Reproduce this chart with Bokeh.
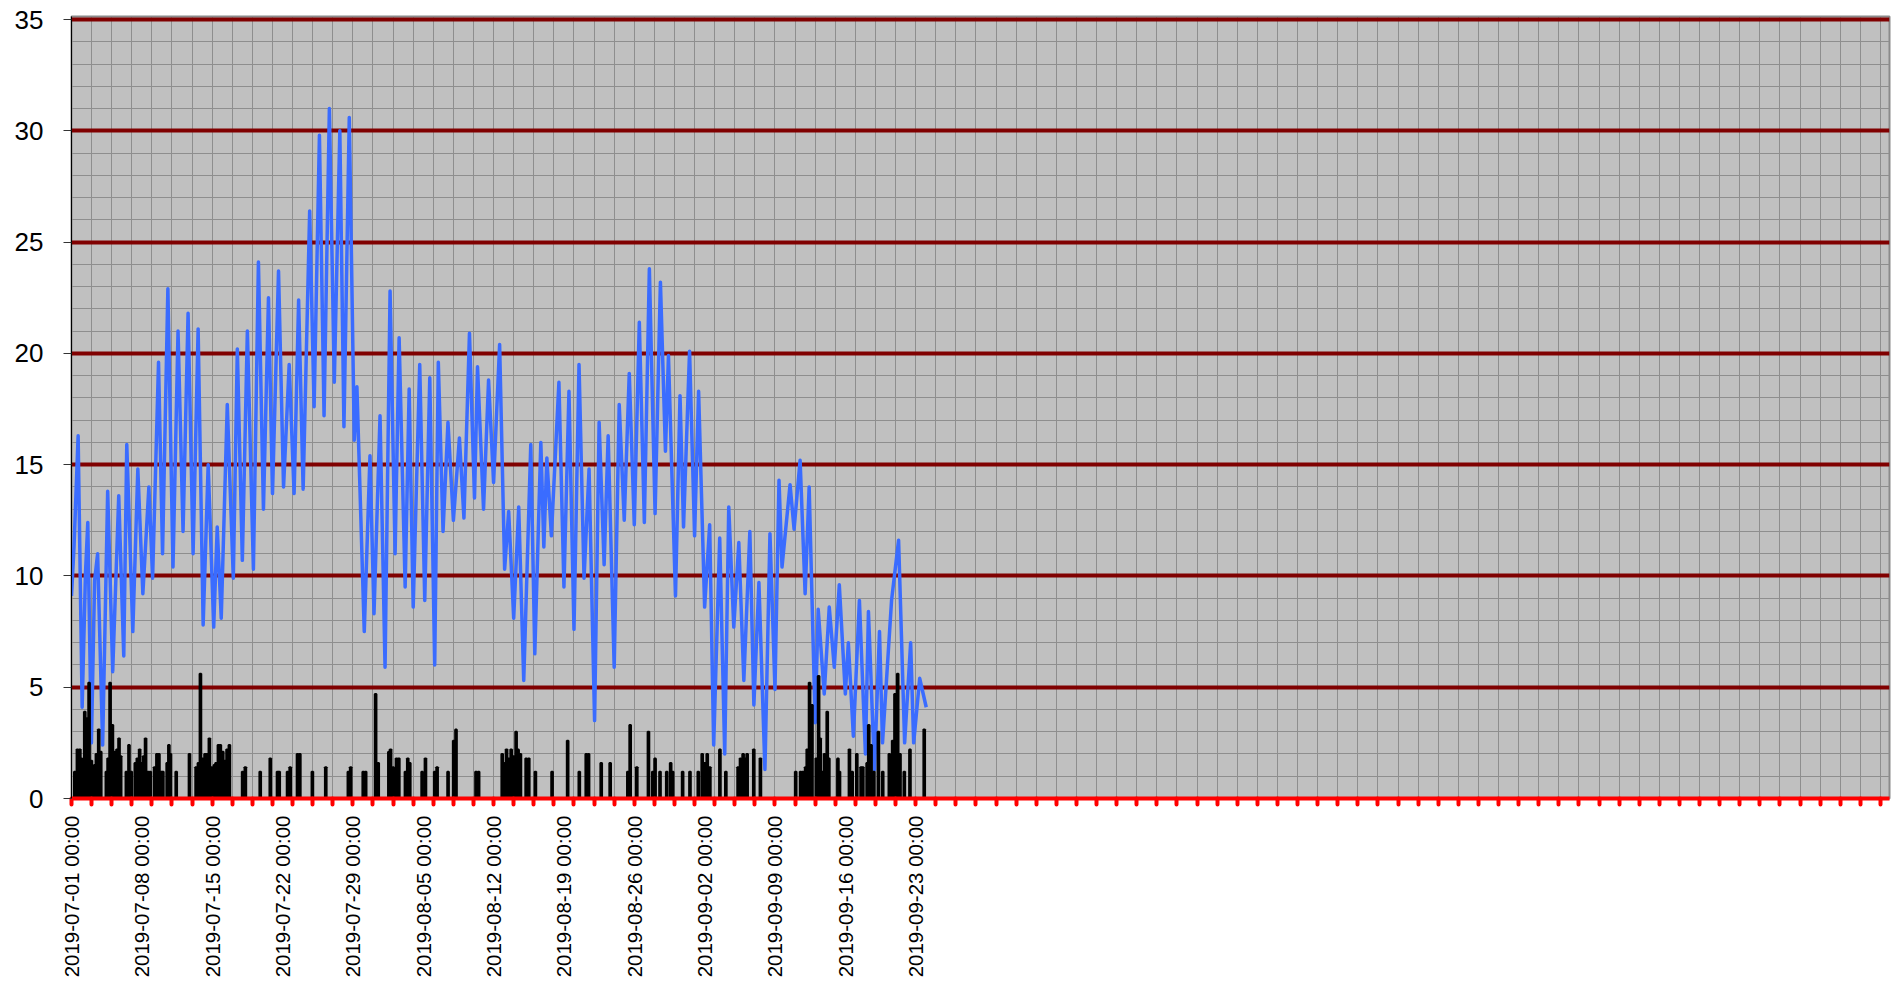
import math
import pandas as pd
from bokeh.plotting import figure
from bokeh.models import Range1d, FixedTicker, DatetimeTickFormatter, ColumnDataSource
from bokeh.embed import file_html
from bokeh.resources import INLINE

START = pd.Timestamp("2019-07-01 00:00")

# Temperature: days since 2019-07-01 and values
temp_days = [0.0, 0.25, 0.66, 1.06, 1.39, 1.62, 1.98, 2.3, 2.6, 3.1, 3.6, 4.1, 4.7, 5.2, 5.5, 6.1, 6.6, 7.1, 7.7,
             8.07, 8.66, 9.06, 9.59, 10.1, 10.6, 11.1, 11.6, 12.1, 12.6, 13.1, 13.6, 14.15, 14.5, 14.9, 15.5, 16.1,
             16.5, 17.0, 17.5, 18.1, 18.6, 19.1, 19.6, 20.0, 20.6, 21.1,
             21.66, 22.15, 22.6, 23.05, 23.7, 24.14, 24.67, 25.13, 25.66, 26.15, 26.7, 27.11, 27.64, 28.14, 28.4,
             29.13, 29.7, 30.1, 30.7, 31.2, 31.7, 32.2, 32.6, 33.2, 33.6, 34.0, 34.65, 35.15, 35.65, 36.14, 36.5,
             36.97, 37.46, 38.0, 38.6, 39.05, 39.6, 40.1, 40.4, 41.0, 41.5, 42.0, 42.6,
             43.1, 43.5, 44.0, 44.5, 45.0, 45.7, 46.1, 46.7, 47.0, 47.3, 47.75, 48.5, 49.0, 49.5, 50.0, 50.5, 51.0,
             51.5, 52.05, 52.5, 53.0, 53.4, 54.0, 54.5, 55.0, 55.5, 56.0, 56.5, 57.0, 57.5, 58.07, 58.6, 59.1, 59.4,
             60.1, 60.55, 60.9, 61.5, 62.0, 62.4, 63.0, 63.5, 63.9,
             64.5, 65.0, 65.4, 65.9, 66.4, 66.9, 67.5, 67.9, 68.4, 69.0, 69.5, 70.0, 70.4, 70.7, 71.5, 71.9, 72.5,
             73.0, 73.4, 74.0, 74.3, 74.9, 75.4, 75.9, 76.4, 77.0, 77.3, 77.8, 78.4, 79.0, 79.3, 79.9, 80.4, 80.7,
             81.6, 82.3, 82.9, 83.5, 83.8, 84.4, 85.05]
temp_values = [9.1, 11.3, 16.3, 4.1, 10.1, 12.4, 2.5, 9.8, 11.0, 2.4, 13.8, 5.7, 13.6, 6.4, 15.9, 7.5, 14.8, 9.2, 14.0,
               9.9, 19.6, 11.0, 22.9, 10.4, 21.0, 12.0, 21.8, 11.0, 21.1, 7.8, 15.0, 7.7, 12.2, 8.1, 17.7, 9.9,
               20.2, 10.7, 21.0, 10.3, 24.1, 13.0, 22.5, 13.7, 23.7, 14.0,
               19.5, 13.7, 22.4, 13.9, 26.4, 17.6, 29.8, 17.2, 31.0, 18.7, 30.0, 16.7, 30.6, 16.1, 18.5,
               7.5, 15.4, 8.3, 17.2, 5.9, 22.8, 11.0, 20.7, 9.5, 18.4, 8.6, 19.5, 8.9, 18.9, 6.0, 19.6,
               12.0, 16.9, 12.5, 16.2, 12.6, 20.9, 13.5, 19.4, 13.0, 18.8, 14.2, 20.4,
               10.3, 12.9, 8.1, 13.1, 5.3, 15.9, 6.5, 16.0, 11.3, 15.3, 11.8, 18.7, 9.5, 18.3, 7.6, 19.5, 9.9,
               14.8, 3.5, 16.9, 10.5, 16.3, 5.9, 17.7, 12.5, 19.1, 12.3, 21.4, 12.4, 23.8, 12.8, 23.2, 15.6, 19.9,
               9.1, 18.1, 12.2, 20.1, 11.8, 18.3, 8.6, 12.3, 2.4,
               11.7, 2.0, 13.1, 7.7, 11.5, 5.3, 12.0, 4.2, 9.7, 1.3, 11.9, 4.9, 14.3, 10.4, 14.1, 12.1, 15.2,
               9.2, 14.0, 3.4, 8.5, 4.7, 8.6, 5.9, 9.6, 4.7, 7.0, 2.8, 8.9, 2.0, 8.4, 1.3, 7.5, 2.5,
               8.9, 11.6, 2.5, 7.0, 2.5, 5.4, 4.1]

# Precipitation: days since 2019-07-01 and values
rain_days = [0.33, 0.59, 0.83, 0.99, 1.16, 1.32, 1.55, 1.75, 1.98, 2.31, 2.48, 2.71, 2.91, 3.47, 3.64, 3.84, 4.07,
             4.30, 4.53, 4.73, 4.89, 5.46, 5.72, 5.95, 6.35, 6.55, 6.78, 6.94, 7.18, 7.37, 7.61, 7.84, 8.27, 8.5,
             8.70, 8.93, 9.09, 9.52, 9.69, 9.85, 10.42, 11.74, 12.4, 12.63, 12.83, 13.06, 13.29, 13.49, 13.72,
             13.95, 14.22, 14.38, 14.62, 14.81, 15.05, 15.28, 15.48, 15.71, 17.03, 17.3, 18.78, 19.78, 20.5, 20.67,
             21.5, 21.76, 22.49, 22.72, 23.97, 25.3, 27.55, 27.78, 29.03, 29.27, 30.26, 30.52, 31.58, 31.75, 32.01,
             32.34, 32.57, 33.23, 33.46, 33.66, 34.89, 35.22, 36.14, 36.38, 37.47, 38.03, 38.26, 40.25, 40.51,
             42.86, 43.02, 43.29, 43.52, 43.75, 44.01, 44.24, 44.44, 44.67, 45.24, 45.5, 46.16, 47.82, 49.37,
             50.53, 51.22, 51.45, 52.71, 53.6, 55.36, 55.59, 56.25, 57.41, 57.84, 58.07, 58.56, 59.23, 59.62,
             59.82, 60.81, 61.54, 62.37, 62.76, 63.03, 63.26, 63.52, 64.52, 65.11, 66.33, 66.57, 66.83, 67.06,
             67.23, 67.89, 68.55, 72.06, 72.55, 72.78, 73.05, 73.21, 73.44, 73.68, 74.11, 74.34, 74.5, 74.7, 74.93,
             75.2, 75.36, 76.26, 76.42, 77.41, 77.68, 78.14, 78.57, 78.74, 79.17, 79.33, 79.56, 79.83, 80.29,
             80.72, 81.38, 81.71, 81.94, 82.21, 82.44, 82.87, 83.43, 84.85]
rain_values = [1.2, 2.2, 2.2, 1.8, 1.2, 3.9, 3.6, 5.2, 1.7, 1.5, 2.0, 3.1, 2.1, 1.2, 1.8, 5.2, 3.3,
               2.1, 2.2, 2.7, 1.9, 1.2, 2.4, 1.2, 1.6, 1.8, 2.2, 1.6, 1.9, 2.7, 1.2, 1.2, 1.4, 2.0,
               2.0, 1.2, 1.2, 1.6, 2.4, 2.0, 1.2, 2.0, 1.4, 1.6, 5.6, 1.8, 2.0, 2.0, 2.7,
               1.4, 1.5, 1.6, 2.4, 2.4, 2.1, 1.7, 2.2, 2.4, 1.2, 1.4, 1.2, 1.8, 1.2, 1.2,
               1.2, 1.4, 2.0, 2.0, 1.2, 1.4, 1.2, 1.4, 1.2, 1.2, 4.7, 1.6, 2.1, 2.2, 1.4,
               1.8, 1.8, 1.2, 1.8, 1.6, 1.2, 1.8, 1.2, 1.4, 1.2, 2.6, 3.1, 1.2, 1.2,
               2.0, 1.6, 2.2, 1.8, 2.2, 1.9, 3.0, 2.2, 2.0, 1.8, 1.8, 1.2, 1.2, 2.6,
               1.2, 2.0, 2.0, 1.6, 1.6, 1.2, 3.3, 1.4, 3.0, 1.2, 1.8, 1.2, 1.2, 1.6,
               1.2, 1.2, 1.2, 1.2, 2.0, 1.6, 2.0, 1.4, 2.2, 1.2, 1.4, 1.8, 2.0, 1.8,
               2.0, 2.2, 1.8, 1.2, 1.2, 1.2, 1.4, 2.2, 5.2, 4.2, 1.8, 5.5, 2.7, 1.2, 2.0,
               3.9, 1.8, 1.8, 1.2, 2.2, 1.2, 2.0, 1.4, 1.4, 1.6, 3.3, 2.4, 1.2, 3.0,
               1.2, 2.0, 2.6, 4.7, 5.6, 2.0, 1.2, 2.2, 3.1]

label_dates = ["2019-07-01", "2019-07-08", "2019-07-15", "2019-07-22", "2019-07-29", "2019-08-05",
               "2019-08-12", "2019-08-19", "2019-08-26", "2019-09-02", "2019-09-09", "2019-09-16",
               "2019-09-23"]
y_ticks = [0, 5, 10, 15, 20, 25, 30, 35]


def to_dt(d):
    return START + pd.to_timedelta(d, unit="D")


def to_ms(ts):
    return ts.value // 10**6


temp_src = ColumnDataSource(dict(t=[to_dt(d) for d in temp_days], v=temp_values))
rain_src = ColumnDataSource(dict(t=[to_dt(d) for d in rain_days], v=rain_values))

p = figure(width=1892, height=982, x_axis_type="datetime", output_backend="svg", toolbar_location=None,
           x_range=Range1d(START, to_dt(180.9)), y_range=Range1d(0, 35.135),
           min_border_left=71, min_border_right=3, min_border_top=16, min_border_bottom=184)

p.background_fill_color = "#c0c0c0"
p.border_fill_color = "white"
p.outline_line_color = "#8a8a8a"
p.outline_line_width = 2

x_ticker = FixedTicker(ticks=[to_ms(pd.Timestamp(s)) for s in label_dates],
                       minor_ticks=[to_ms(to_dt(2 * k)) for k in range(0, 91)])
y_ticker = FixedTicker(ticks=y_ticks, minor_ticks=[k for k in range(0, 36) if k % 5 != 0])

p.xaxis.ticker = x_ticker
p.yaxis.ticker = y_ticker
p.xgrid.ticker = x_ticker
p.ygrid.ticker = y_ticker

fmt = "%Y-%m-%d %H:%M"
p.xaxis.formatter = DatetimeTickFormatter(milliseconds=fmt, seconds=fmt, minsec=fmt, minutes=fmt, hourmin=fmt,
                                          hours=fmt, days=fmt, months=fmt, years=fmt)

p.xgrid.grid_line_color = None
p.xgrid.minor_grid_line_color = "#8e8e8e"
p.xgrid.minor_grid_line_width = 1
p.ygrid.grid_line_color = "#800000"
p.ygrid.grid_line_width = 4
p.ygrid.minor_grid_line_color = "#8e8e8e"
p.ygrid.minor_grid_line_width = 1

xa = p.xaxis[0]
xa.axis_line_color = "red"
xa.axis_line_width = 4
xa.major_tick_line_color = None
xa.major_tick_out = 8
xa.major_tick_in = 0
xa.minor_tick_line_color = "red"
xa.minor_tick_line_width = 4
xa.minor_tick_line_cap = "round"
xa.minor_tick_out = 6
xa.minor_tick_in = 0
xa.major_label_orientation = math.pi / 2
xa.major_label_standoff = 9
xa.major_label_text_font = "Liberation Sans"
xa.major_label_text_font_size = "20.5px"
xa.major_label_text_color = "black"

ya = p.yaxis[0]
ya.axis_line_color = "black"
ya.axis_line_width = 1
ya.major_tick_line_color = "#333333"
ya.major_tick_out = 8
ya.major_tick_in = 0
ya.minor_tick_line_color = None
ya.major_label_standoff = 20
ya.major_label_text_font = "Liberation Sans"
ya.major_label_text_font_size = "26px"
ya.major_label_text_color = "black"

p.line("t", "v", source=temp_src, line_color="#3a6cff", line_width=3.5, line_join="round")
p.vbar(x="t", top="v", source=rain_src, width=4 * 3600 * 1000, fill_color="black", line_color="black",
       line_width=2)

open("out.html", "w").write(file_html(p, INLINE, title="chart"))
